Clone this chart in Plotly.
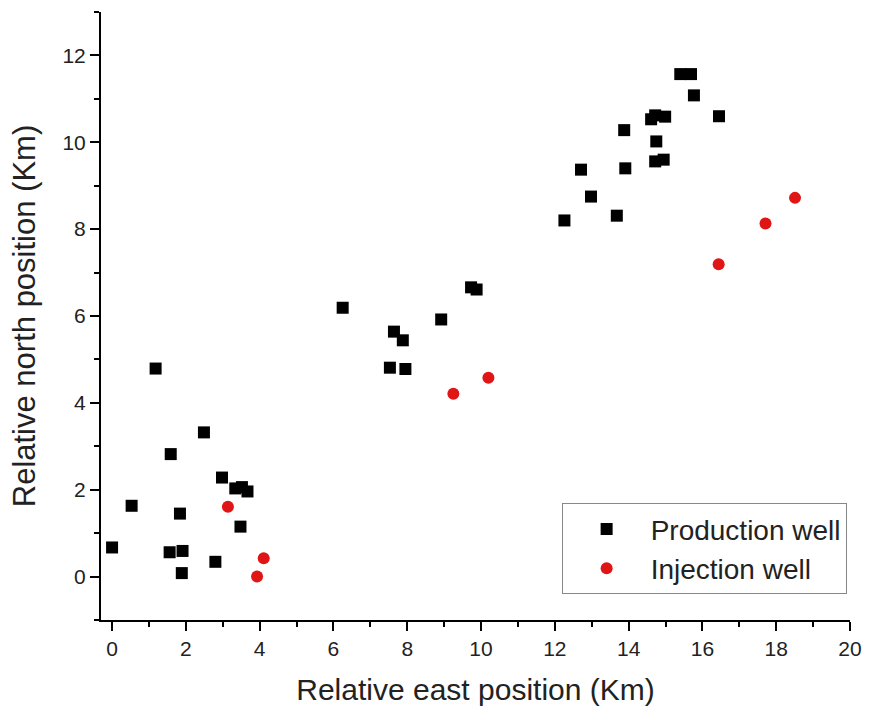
import plotly.graph_objects as go

# Production wells (black squares)
prod_x = [0.0, 0.53, 1.18, 1.59, 1.56, 1.84, 1.91, 1.89, 2.49, 2.98, 3.34, 3.52, 3.67, 3.48, 2.80,
          6.25, 7.64, 7.88, 7.53, 7.95, 8.92, 9.73, 9.88,
          15.40, 15.69, 15.77, 16.45, 14.61, 14.72, 14.99, 13.88, 14.75, 14.72, 14.95,
          12.71, 13.91, 12.98, 12.26, 13.68]
prod_y = [0.67, 1.63, 4.79, 2.82, 0.56, 1.45, 0.59, 0.08, 3.32, 2.28, 2.03, 2.06, 1.96, 1.15, 0.34,
          6.19, 5.64, 5.44, 4.81, 4.78, 5.92, 6.66, 6.61,
          11.57, 11.57, 11.08, 10.60, 10.53, 10.62, 10.59, 10.28, 10.02, 9.56, 9.60,
          9.37, 9.40, 8.75, 8.20, 8.31]

# Injection wells (red circles)
inj_x = [3.14, 4.11, 3.93, 9.25, 10.20, 16.44, 17.71, 18.51]
inj_y = [1.61, 0.42, 0.00, 4.21, 4.58, 7.19, 8.13, 8.72]

FONT = "Liberation Sans, Arial, sans-serif"

fig = go.Figure()
fig.add_trace(go.Scatter(x=prod_x, y=prod_y, mode="markers", name="Production well",
                         marker=dict(symbol="square", size=12, color="#000000")))
fig.add_trace(go.Scatter(x=inj_x, y=inj_y, mode="markers", name="Injection well",
                         marker=dict(symbol="circle", size=12, color="#e01515")))

axis_common = dict(
    showline=True, linecolor="black", linewidth=2, mirror=False,
    showgrid=False, zeroline=False,
    ticks="outside", ticklen=9, tickwidth=2, tickcolor="black",
    tickfont=dict(family=FONT, size=21, color="#222222"),
    minor=dict(ticks="outside", ticklen=5, tickwidth=2, tickcolor="black", dtick=1, showgrid=False),
)

fig.update_xaxes(range=[-0.3, 20], tick0=0, dtick=2,
                 title=dict(text="Relative east position (Km)", font=dict(family=FONT, size=30, color="#222222"), standoff=20),
                 **axis_common)
fig.update_yaxes(range=[-1, 13], tick0=0, dtick=2,
                 title=dict(text="Relative north position (Km)", font=dict(family=FONT, size=31, color="#222222"), standoff=18),
                 **axis_common)

fig.update_layout(
    width=874, height=715,
    margin=dict(l=101, r=22, t=12, b=95),
    plot_bgcolor="white", paper_bgcolor="white",
    showlegend=True,
    legend=dict(x=0.615, y=0.192, xanchor="left", yanchor="top",
                itemwidth=78,
                bordercolor="#888888", borderwidth=1, bgcolor="white",
                font=dict(family=FONT, size=28, color="#222222")),
)

fig.write_html("out.html")
